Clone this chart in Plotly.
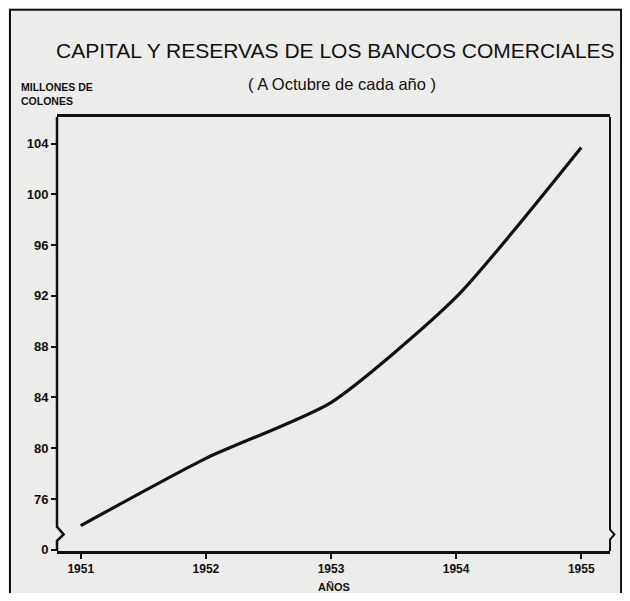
import plotly.graph_objects as go

# Data (millones de colones, a octubre de cada año)
years = [1951, 1952, 1953, 1954, 1955]
capital_reservas = [73.9, 79.2, 83.6, 91.9, 103.7]

# Y-axis ticks (axis broken between 0 and 76; "0" is drawn at the bottom)
y_tickvals = [72, 76, 80, 84, 88, 92, 96, 100, 104]
y_ticktext = ["0", "76", "80", "84", "88", "92", "96", "100", "104"]
x_tickvals = [1951, 1952, 1953, 1954, 1955]
x_ticktext = ["1951", "1952", "1953", "1954", "1955"]

title_text = "CAPITAL Y RESERVAS DE LOS BANCOS COMERCIALES"
subtitle_text = "( A Octubre de cada año )"
ylabel_text = "MILLONES DE<br>COLONES"
xlabel_text = "AÑOS"

Y_MIN, Y_MAX = 71.9, 106.1
BG = "#ececea"
INK = "#111111"
SANS = "Liberation Sans, Arial, sans-serif"

fig = go.Figure()
fig.add_trace(go.Scatter(
    x=years, y=capital_reservas, mode="lines",
    line=dict(color=INK, width=3.2, shape="spline", smoothing=0.6),
    hoverinfo="x+y", showlegend=False,
))

# page body adds an 8px margin, so the figure is sized/offset to compensate
fig.update_layout(
    width=614, height=585,
    margin=dict(l=49, r=12, t=109, b=42),
    paper_bgcolor=BG, plot_bgcolor=BG,
    font=dict(family=SANS, color=INK),
    xaxis=dict(
        range=[1950.81, 1955.23], tickvals=x_tickvals, ticktext=x_ticktext,
        showgrid=False, zeroline=False, showline=True, mirror=True,
        linecolor=INK, linewidth=2.5, ticks="outside", ticklen=5, tickwidth=2,
        tickcolor=INK,
        tickfont=dict(family=SANS, size=12, color=INK, weight="bold"),
    ),
    yaxis=dict(
        range=[Y_MIN, Y_MAX], tickvals=y_tickvals, ticktext=y_ticktext,
        showgrid=False, zeroline=False, showline=False,
        ticks="outside", ticklen=5, tickwidth=2, tickcolor=INK,
        tickfont=dict(family=SANS, size=13, color=INK, weight="bold"),
    ),
)

# Borders of the plot with the axis-break zigzags
fig.add_shape(type="path", xref="paper", yref="y",
              path=f"M 0,{Y_MAX} L 0,73.8 L 0.012,73.2 L 0,72.7 L 0,{Y_MIN}",
              line=dict(color=INK, width=2.5))
fig.add_shape(type="path", xref="paper", yref="y",
              path=f"M 1,{Y_MAX} L 1,73.6 L 1.008,73.2 L 1,72.8 L 1,{Y_MIN}",
              line=dict(color=INK, width=2))
# Outer frame of the sheet
fig.add_shape(type="rect", xref="paper", yref="paper",
              x0=-0.085, x1=1.02, y0=-0.2, y1=1.247,
              line=dict(color=INK, width=2), layer="below")

fig.add_annotation(text=title_text, xref="paper", yref="paper",
                   x=0.503, y=1.154, xanchor="center", yanchor="middle",
                   showarrow=False,
                   font=dict(family=SANS, size=21, color=INK))
fig.add_annotation(text=subtitle_text, xref="paper", yref="paper",
                   x=0.515, y=1.076, xanchor="center", yanchor="middle",
                   showarrow=False,
                   font=dict(family=SANS, size=16.5, color=INK))
fig.add_annotation(text=ylabel_text, xref="paper", yref="paper",
                   x=-0.068, y=1.087, xanchor="left", yanchor="top", align="left",
                   showarrow=False,
                   font=dict(family=SANS, size=10.5, color=INK, weight="bold"))
fig.add_annotation(text=xlabel_text, xref="paper", yref="paper",
                   x=0.5, y=-0.083, xanchor="center", yanchor="middle",
                   showarrow=False,
                   font=dict(family=SANS, size=11, color=INK, weight="bold"))

fig.write_html("out.html")
